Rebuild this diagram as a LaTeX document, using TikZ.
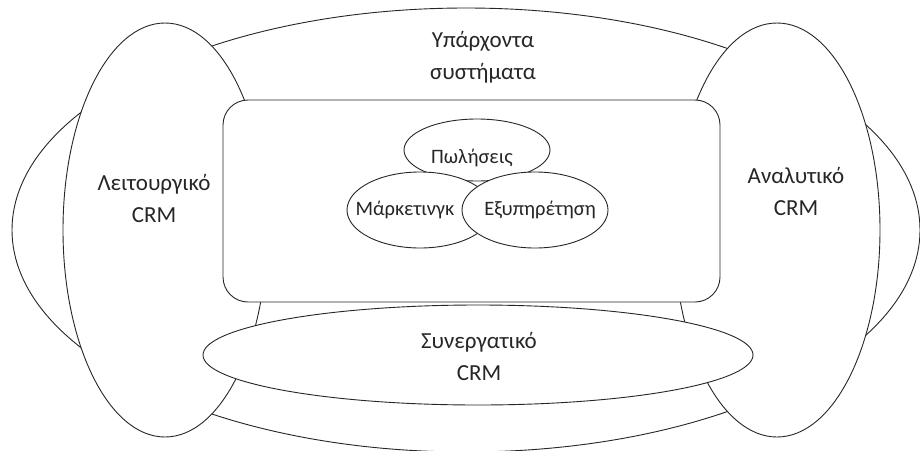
\documentclass[tikz,border=0pt]{standalone}
\usepackage{fontspec}
\setmainfont{Carlito}
\usetikzlibrary{shapes.geometric}

\begin{document}
\begin{tikzpicture}
  [x=1pt,y=-1pt,
   blob/.style={ellipse,draw=black!85,fill=white,line width=.9pt,inner sep=0pt},
   panel/.style={rectangle,rounded corners=25pt,draw=black!85,fill=white,line width=.9pt,inner sep=0pt},
   lbl/.style={align=center,font=\fontsize{23}{32}\selectfont,text=black!85},
   sublbl/.style={anchor=base,font=\fontsize{20.5}{24}\selectfont,text=black!85}]

  \useasboundingbox (0,0) rectangle (920,450);

  % outer ring, then the two side ellipses on top of it
  \node[blob,minimum width=908pt,minimum height=444pt] (outer) at (466,230) {};
  \node[blob,minimum width=204pt,minimum height=414pt] (oper) at (165,230) {};
  \node[blob,minimum width=206pt,minimum height=414pt] (anal) at (777,230) {};

  % central box and the collaborative ellipse under it
  \node[panel,minimum width=497pt,minimum height=202pt] (core) at (471.5,201) {};
  \node[blob,minimum width=550pt,minimum height=100pt] (collab) at (478,355) {};

  % the three departments
  \node[blob,minimum width=146pt,minimum height=62pt] (sales) at (477,150) {};
  \node[blob,minimum width=146pt,minimum height=76pt] (mkt) at (420,210) {};
  \node[blob,minimum width=146pt,minimum height=76pt] (serv) at (535,210) {};

  % labels
  \node[lbl] (existing) at (483,57) {Υπάρχοντα\\συστήματα};
  \node[lbl] (operlbl) at (154,198) {Λειτουργικό\\CRM};
  \node[lbl] (anallbl) at (796,191) {Αναλυτικό\\CRM};
  \node[lbl] (collablbl) at (479,356) {Συνεργατικό\\CRM};
  \node[sublbl] (saleslbl) at (472,163) {Πωλήσεις};
  \node[sublbl] (mktlbl) at (405,215) {Μάρκετινγκ};
  \node[sublbl] (servlbl) at (540,215) {Εξυπηρέτηση};
\end{tikzpicture}
\end{document}
